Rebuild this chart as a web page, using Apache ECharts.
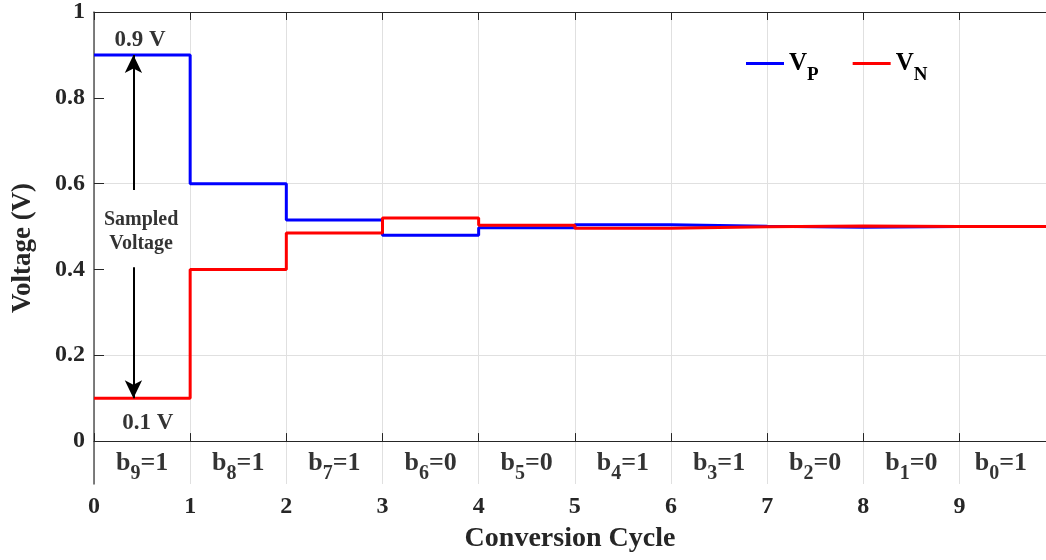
<!DOCTYPE html>
<html>
<head>
<meta charset="utf-8">
<script src="https://cdn.jsdelivr.net/npm/echarts@6/dist/echarts.min.js"></script>
<style>
html, body { margin: 0; padding: 0; background: #fff; }
#main { width: 1046px; height: 560px; }
</style>
</head>
<body>
<div id="main"></div>
<script>
// conversion cycle boundaries and the two DAC node voltages
var cycles = [0, 1, 2, 3, 4, 5, 6, 7, 8, 9, 10];
var vp = [0.9, 0.6, 0.515, 0.48, 0.497, 0.504, 0.5005, 0.4985, 0.5, 0.5, 0.5];
var vn = [0.1, 0.4, 0.485, 0.52, 0.503, 0.496, 0.4995, 0.5015, 0.5, 0.5, 0.5];

// decided bits per cycle
var bitIndex = [9, 8, 7, 6, 5, 4, 3, 2, 1, 0];
var bitValue = [1, 1, 1, 0, 0, 1, 1, 0, 0, 1];
var bitPos = [0.5, 1.5, 2.5, 3.5, 4.5, 5.5, 6.5, 7.5, 8.5, 9.43];

var yTicks = [0, 0.2, 0.4, 0.6, 0.8, 1];
var xTicks = [0, 1, 2, 3, 4, 5, 6, 7, 8, 9];

var serif = '"Liberation Serif", "Times New Roman", serif';
var chart = echarts.init(document.getElementById('main'));

function pairs(xs, ys) {
  var res = [];
  for (var i = 0; i < xs.length; i++) res.push([xs[i], ys[i]]);
  return res;
}

var bitData = [];
for (var i = 0; i < bitIndex.length; i++) {
  bitData.push({ value: [bitPos[i], -0.052], idx: bitIndex[i], bit: bitValue[i] });
}

var option = {
  animation: false,
  grid: { left: 94, top: 12, right: 0, bottom: 76 },
  legend: {
    left: 741, top: 46,
    itemWidth: 38, itemHeight: 3, itemGap: 34,
    icon: 'rect',
    data: ['VP', 'VN'],
    formatter: function (name) { return '{v|V}{s|' + name.slice(1) + '}'; },
    textStyle: {
      rich: {
        v: { fontFamily: serif, fontWeight: 'bold', fontSize: 25, color: '#000' },
        s: { fontFamily: serif, fontWeight: 'bold', fontSize: 19, color: '#000', padding: [24, 0, 0, 0] }
      }
    }
  },
  xAxis: [{
    type: 'value', min: 0, max: 9.9, interval: 1,
    name: 'Conversion Cycle', nameLocation: 'middle', nameGap: 41,
    nameTextStyle: { fontFamily: serif, fontWeight: 'bold', fontSize: 28, color: '#262626' },
    axisLine: { lineStyle: { color: '#262626', width: 1 } },
    axisTick: { inside: true, length: 8, lineStyle: { color: '#262626' }, customValues: xTicks },
    axisLabel: { fontFamily: serif, fontWeight: 'bold', fontSize: 24, color: '#262626', margin: 11, customValues: xTicks },
    splitLine: { show: true, lineStyle: { color: '#e0e0e0', width: 1 } }
  }, {
    type: 'value', min: 0, max: 9.9, interval: 1, position: 'top',
    axisLine: { show: true, lineStyle: { color: '#262626', width: 1 } },
    axisTick: { show: true, inside: true, length: 8, lineStyle: { color: '#262626' }, customValues: xTicks },
    axisLabel: { show: false },
    splitLine: { show: false }
  }],
  yAxis: {
    type: 'value', min: -0.1, max: 1, interval: 0.1,
    name: 'Voltage (V)', nameLocation: 'middle', nameGap: 57,
    nameTextStyle: { fontFamily: serif, fontWeight: 'bold', fontSize: 27, color: '#262626' },
    axisLine: { show: true, lineStyle: { color: '#555', width: 1.5 } },
    axisTick: { show: true, inside: true, length: 10, lineStyle: { color: '#262626' }, customValues: yTicks },
    axisLabel: { fontFamily: serif, fontWeight: 'bold', fontSize: 24, color: '#262626', margin: 9, customValues: yTicks },
    splitLine: { show: true, lineStyle: { color: ['transparent', '#e0e0e0'], width: 1 } }
  },
  series: [{
    name: 'VP', type: 'line', step: 'end', symbol: 'none',
    data: pairs(cycles, vp),
    itemStyle: { color: '#0000ff' },
    lineStyle: { color: '#0000ff', width: 3 },
    z: 3
  }, {
    name: 'VN', type: 'line', step: 'end', symbol: 'none',
    data: pairs(cycles, vn),
    itemStyle: { color: '#ff0000' },
    lineStyle: { color: '#ff0000', width: 3 },
    z: 4,
    markLine: {
      silent: true, symbol: ['none', 'arrow'], symbolSize: [13, 18],
      label: { show: false },
      lineStyle: { color: '#000', width: 2, type: 'solid' },
      data: [
        [{ coord: [0.41, 0.585] }, { coord: [0.41, 0.9] }],
        [{ coord: [0.41, 0.405] }, { coord: [0.41, 0.1] }]
      ]
    }
  }, {
    // bit decision labels under each cycle
    type: 'scatter', symbolSize: 0, silent: true,
    data: bitData,
    label: {
      show: true, position: 'inside',
      formatter: function (p) { return '{b|b}{s|' + p.data.idx + '}{b|=' + p.data.bit + '}'; },
      rich: {
        b: { fontFamily: serif, fontWeight: 'bold', fontSize: 26, color: '#000' },
        s: { fontFamily: serif, fontWeight: 'bold', fontSize: 20, color: '#000', padding: [20, 0, 0, 0] }
      }
    }
  }, {
    // voltage annotations
    type: 'scatter', symbolSize: 0, silent: true,
    data: [
      { value: [0.48, 0.935], name: '0.9 V' },
      { value: [0.56, 0.042], name: '0.1 V' },
      { value: [0.49, 0.488], name: 'Sampled\nVoltage', label: { fontSize: 20, lineHeight: 24 } }
    ],
    label: {
      show: true, position: 'inside',
      formatter: function (p) { return p.name; },
      fontFamily: serif, fontWeight: 'bold', fontSize: 23, color: '#000'
    }
  }]
};

chart.setOption(option);
window.onresize = chart.resize;
</script>
</body>
</html>
